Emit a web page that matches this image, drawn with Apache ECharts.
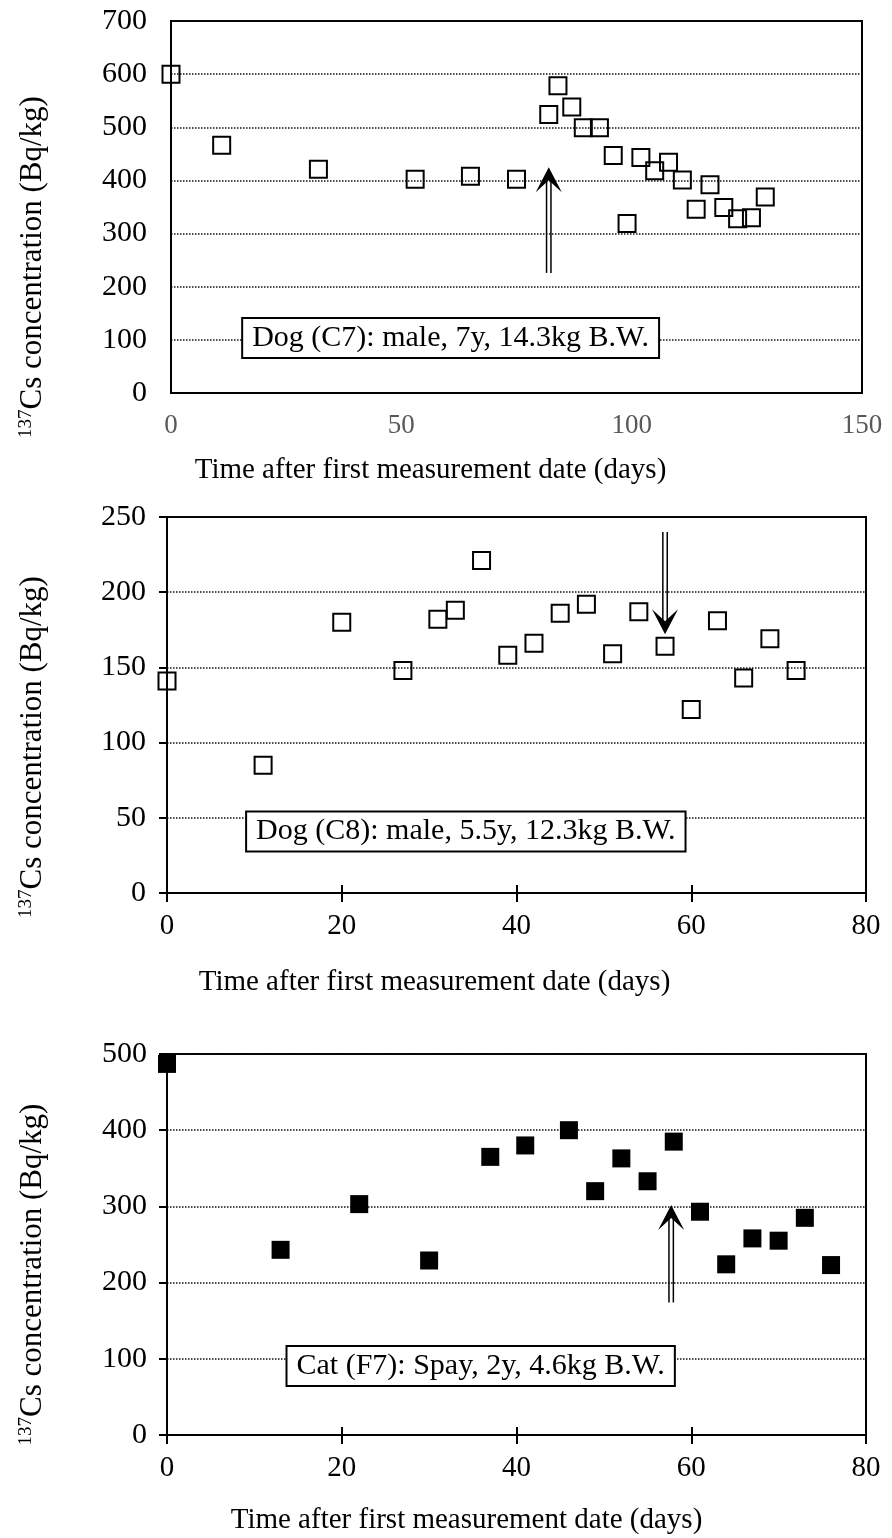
<!DOCTYPE html>
<html>
<head>
<meta charset="utf-8">
<script src="https://cdn.jsdelivr.net/npm/echarts@6/dist/echarts.min.js"></script>
<style>
  html, body { margin: 0; padding: 0; background: #fff; }
  #chart { width: 892px; height: 1538px; }
</style>
</head>
<body>
<div id="chart"></div>
<script>
// ---- Data ----
const c7Days   = [0, 11, 32, 53, 65, 75, 82, 84, 87, 89.5, 93, 96, 99, 102, 105, 108, 111, 114, 117, 120, 123, 126, 129];
const c7Values = [600, 466, 421, 402, 408, 402, 524, 578, 538, 499, 499, 447, 319, 443, 418, 434, 401, 346, 392, 349, 328, 330, 369];

const c8Days   = [0, 11, 20, 27, 31, 33, 36, 39, 42, 45, 48, 51, 54, 57, 60, 63, 66, 69, 72];
const c8Values = [141, 85, 180, 148, 182, 188, 221, 158, 166, 186, 192, 159, 187, 164, 122, 181, 143, 169, 148];

const f7Days   = [0, 13, 22, 30, 37, 41, 46, 49, 52, 55, 58, 61, 64, 67, 70, 73, 76];
const f7Values = [487, 243, 303, 229, 365, 380, 400, 320, 363, 333, 385, 293, 224, 258, 255, 285, 223];

// arrows: [x (days), start value, tip value]
const arrowC7 = [[82, 226, 425]];
const arrowC8 = [[57, 240, 172]];
const arrowF7 = [[57.7, 174, 302]];

// annotation labels and their anchor (data coords)
const noteC7 = { text: 'Dog (C7): male, 7y, 14.3kg B.W.', at: [60.7, 103.5] };
const noteC8 = { text: 'Dog (C8): male, 5.5y, 12.3kg B.W.', at: [34.2, 40.9] };
const noteF7 = { text: 'Cat (F7): Spay, 2y, 4.6kg B.W.', at: [35.9, 90.5] };

const xTitle = 'Time after first measurement date (days)';
const yTitle = '{sup|137}{base|Cs concentration (Bq/kg)}';

// ---- Helpers ----
const FONT = 'Liberation Serif';
function zip(a, b) { return a.map((v, i) => [v, b[i]]); }

function arrowRender(params, api) {
  const x = api.value(0), y0 = api.value(1), y1 = api.value(2);
  const p0 = api.coord([x, y0]);
  const p1 = api.coord([x, y1]);
  const dir = p1[1] < p0[1] ? -1 : 1;
  const headLen = 25, headHalf = 13, notch = 13;
  const tx = p1[0], ty = p1[1];
  const shaftEnd = ty - dir * notch;
  const ls = { stroke: '#000', lineWidth: 1.5 };
  return {
    type: 'group',
    children: [
      { type: 'line', shape: { x1: p0[0] - 2.2, y1: p0[1], x2: p0[0] - 2.2, y2: shaftEnd }, style: ls },
      { type: 'line', shape: { x1: p0[0] + 2.2, y1: p0[1], x2: p0[0] + 2.2, y2: shaftEnd }, style: ls },
      { type: 'polygon', shape: { points: [[tx, ty], [tx - headHalf, ty - dir * headLen], [tx, ty - dir * notch], [tx + headHalf, ty - dir * headLen]] }, style: { fill: '#000' } }
    ]
  };
}

function yAxisCfg(gi, max, interval, opts) {
  return {
    type: 'value', gridIndex: gi, min: 0, max: max, interval: interval,
    name: yTitle, nameLocation: 'middle', nameGap: opts.nameGap, nameRotate: 90,
    nameTextStyle: {
      padding: [0, opts.shiftDown * 2, 0, 0],
      rich: {
        sup: { fontFamily: FONT, fontSize: 19, color: '#000', verticalAlign: 'top' },
        base: { fontFamily: FONT, fontSize: 31, color: '#000' }
      }
    },
    axisLine: { show: true, lineStyle: { color: '#000', width: 2 } },
    axisTick: { show: opts.ticks, inside: false, length: 8, lineStyle: { color: '#000', width: 2 } },
    axisLabel: { fontFamily: FONT, fontSize: 30, color: '#000', margin: opts.labelMargin },
    splitLine: { show: true, lineStyle: { color: '#111', width: 1.5, type: [1.5, 1.5] } }
  };
}

function xAxisCfg(gi, max, interval, opts) {
  return {
    type: 'value', gridIndex: gi, min: 0, max: max, interval: interval,
    name: xTitle, nameLocation: 'middle', nameGap: opts.nameGap,
    nameTextStyle: { fontFamily: FONT, fontSize: 29, color: '#000', padding: opts.namePad },
    axisLine: { show: true, lineStyle: { color: '#000', width: 2 } },
    axisTick: { show: opts.ticks, inside: false, length: 9, lineStyle: { color: '#000', width: 2 } },
    axisLabel: { fontFamily: FONT, fontSize: opts.labelSize, color: opts.labelColor, margin: 19 },
    splitLine: { show: false }
  };
}

function innerTickAxis(gi, max, interval) {
  return {
    type: 'value', gridIndex: gi, min: 0, max: max, interval: interval, position: 'bottom',
    axisLine: { show: false },
    axisTick: { show: true, inside: true, length: 8, lineStyle: { color: '#000', width: 2 } },
    axisLabel: { show: false }, splitLine: { show: false }
  };
}

function noteSeries(note, xi, yi) {
  return {
    type: 'scatter', xAxisIndex: xi, yAxisIndex: yi, symbolSize: 1, silent: true, z: 5,
    itemStyle: { color: 'rgba(0,0,0,0)', opacity: 1 },
    data: [note.at],
    label: {
      show: true, position: 'inside', formatter: note.text,
      fontFamily: FONT, fontSize: 30, color: '#000',
      backgroundColor: '#fff', borderColor: '#000', borderWidth: 2,
      padding: [5, 9, 3, 9]
    }
  };
}

const hollow = { color: 'rgba(0,0,0,0)', borderColor: '#000', borderWidth: 2, opacity: 1 };

const option = {
  animation: false,
  backgroundColor: '#fff',
  grid: [
    { left: 171, top: 21, width: 691, height: 372, show: true, borderColor: '#000', borderWidth: 2, backgroundColor: 'transparent' },
    { left: 167, top: 517, width: 699, height: 376, show: true, borderColor: '#000', borderWidth: 2, backgroundColor: 'transparent' },
    { left: 167, top: 1054, width: 699, height: 381, show: true, borderColor: '#000', borderWidth: 2, backgroundColor: 'transparent' }
  ],
  xAxis: [
    xAxisCfg(0, 150, 50, { nameGap: 63, namePad: [0, 172, 0, 0], ticks: false, labelColor: '#595959', labelSize: 27 }),
    xAxisCfg(1, 80, 20, { nameGap: 75, namePad: [0, 164, 0, 0], ticks: true, labelColor: '#000', labelSize: 29 }),
    xAxisCfg(2, 80, 20, { nameGap: 71, namePad: [0, 100, 0, 0], ticks: true, labelColor: '#000', labelSize: 29 }),
    innerTickAxis(1, 80, 20),
    innerTickAxis(2, 80, 20)
  ],
  yAxis: [
    yAxisCfg(0, 700, 100, { nameGap: 123, ticks: false, labelMargin: 24, shiftDown: 60 }),
    yAxisCfg(1, 250, 50, { nameGap: 119, ticks: true, labelMargin: 21, shiftDown: 42 }),
    yAxisCfg(2, 500, 100, { nameGap: 119, ticks: true, labelMargin: 20, shiftDown: 30 })
  ],
  series: [
    { type: 'scatter', xAxisIndex: 0, yAxisIndex: 0, symbol: 'rect', symbolSize: 17, clip: false, itemStyle: hollow, data: zip(c7Days, c7Values), z: 3 },
    { type: 'scatter', xAxisIndex: 1, yAxisIndex: 1, symbol: 'rect', symbolSize: 17, clip: false, itemStyle: hollow, data: zip(c8Days, c8Values), z: 3 },
    { type: 'scatter', xAxisIndex: 2, yAxisIndex: 2, symbol: 'rect', symbolSize: 18, clip: false, itemStyle: { color: '#000', opacity: 1 }, data: zip(f7Days, f7Values), z: 3 },
    { type: 'custom', xAxisIndex: 0, yAxisIndex: 0, renderItem: arrowRender, data: arrowC7, encode: { x: 0, y: [1, 2] }, clip: false, silent: true, z: 4 },
    { type: 'custom', xAxisIndex: 1, yAxisIndex: 1, renderItem: arrowRender, data: arrowC8, encode: { x: 0, y: [1, 2] }, clip: false, silent: true, z: 4 },
    { type: 'custom', xAxisIndex: 2, yAxisIndex: 2, renderItem: arrowRender, data: arrowF7, encode: { x: 0, y: [1, 2] }, clip: false, silent: true, z: 4 },
    noteSeries(noteC7, 0, 0),
    noteSeries(noteC8, 1, 1),
    noteSeries(noteF7, 2, 2)
  ]
};

const chart = echarts.init(document.getElementById('chart'), null, { renderer: 'canvas' });
chart.setOption(option);
</script>
</body>
</html>
